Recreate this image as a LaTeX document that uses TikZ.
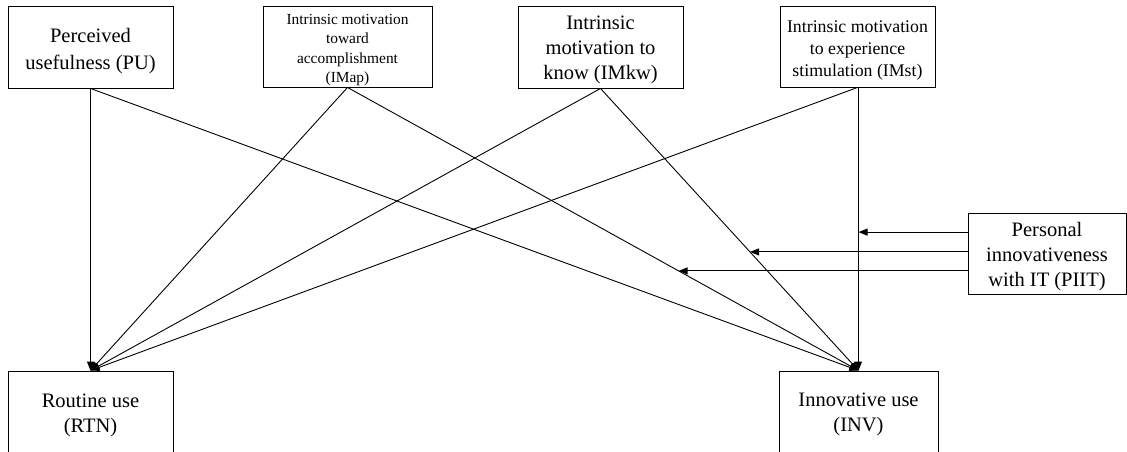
\documentclass[tikz,border=0pt]{standalone}
\usepackage{fontspec}
\setmainfont{Liberation Serif}
\usetikzlibrary{arrows.meta}
\begin{document}
\begin{tikzpicture}[x=1pt,y=-1pt,
  box/.style={draw, line width=0.9pt, inner sep=0pt},
  txt/.style={inner sep=0pt, align=center, font=\fontsize{20.5}{25}\selectfont},
  widetxt/.style={txt, font=\fontsize{20.5}{27}\selectfont},
  smalltxt/.style={txt, font=\fontsize{15.4}{19.3}\selectfont},
  midtxt/.style={txt, font=\fontsize{17.8}{22}\selectfont},
  link/.style={line width=0.9pt, -{Triangle[length=9pt,width=7pt]}}]
\useasboundingbox (0,0) rectangle (1127,451);
\clip (0,0) rectangle (1127,451);

% antecedents
\node[box, minimum width=165pt, minimum height=82pt] (PU) at (90.5,47) {};
\node[widetxt] (PUt) at ([yshift=-4.5pt]PU.center) {Perceived\\usefulness (PU)};

\node[box, minimum width=169pt, minimum height=81pt] (IMap) at (347.5,46.5) {};
\node[smalltxt] (IMapt) at ([yshift=-3.5pt]IMap.center)
  {Intrinsic motivation\\toward\\accomplishment\\(IMap)};

\node[box, minimum width=165pt, minimum height=82pt] (IMkw) at (600.5,47) {};
\node[txt] (IMkwt) at ([yshift=-3pt]IMkw.center) {Intrinsic\\motivation to\\know (IMkw)};

\node[box, minimum width=155pt, minimum height=81pt] (IMst) at (857.5,46.5) {};
\node[midtxt] (IMstt) at ([yshift=-3.5pt]IMst.center)
  {Intrinsic motivation\\to experience\\stimulation (IMst)};

% moderator
\node[box, minimum width=158pt, minimum height=81pt] (PIIT) at (1047,253.5) {};
\node[txt] (PIITt) at ([yshift=-3pt]PIIT.center) {Personal\\innovativeness\\with IT (PIIT)};

% outcomes
\node[box, minimum width=165pt, minimum height=83pt] (RTN) at (90.5,412.5) {};
\node[txt] (RTNt) at ([yshift=-2.5pt]RTN.center) {Routine use\\(RTN)};
\node[box, minimum width=159pt, minimum height=83pt] (INV) at (858.5,412.5) {};
\node[txt] (INVt) at ([yshift=-1.5pt]INV.center) {Innovative use\\(INV)};

% paths to routine use
\draw[link] (PU.south) -- (RTN.north);
\draw[link] (IMap.south) -- (RTN.north);
\draw[link] (IMkw.south) -- (RTN.north);
\draw[link] (IMst.south) -- (RTN.north);

% paths to innovative use
\draw[link] (PU.south) -- (INV.north);
\draw[link] (IMap.south) -- coordinate[pos=0.648] (m3) (INV.north);
\draw[link] (IMkw.south) -- coordinate[pos=0.5795] (m2) (INV.north);
\draw[link] (IMst.south -| INV.north) -- coordinate[pos=0.511] (m1) (INV.north);

% moderating effects of PIIT
\draw[link] (PIIT.west |- m1) -- (m1);
\draw[link] (PIIT.west |- m2) -- (m2);
\draw[link] (PIIT.west |- m3) -- (m3);
\end{tikzpicture}
\end{document}
